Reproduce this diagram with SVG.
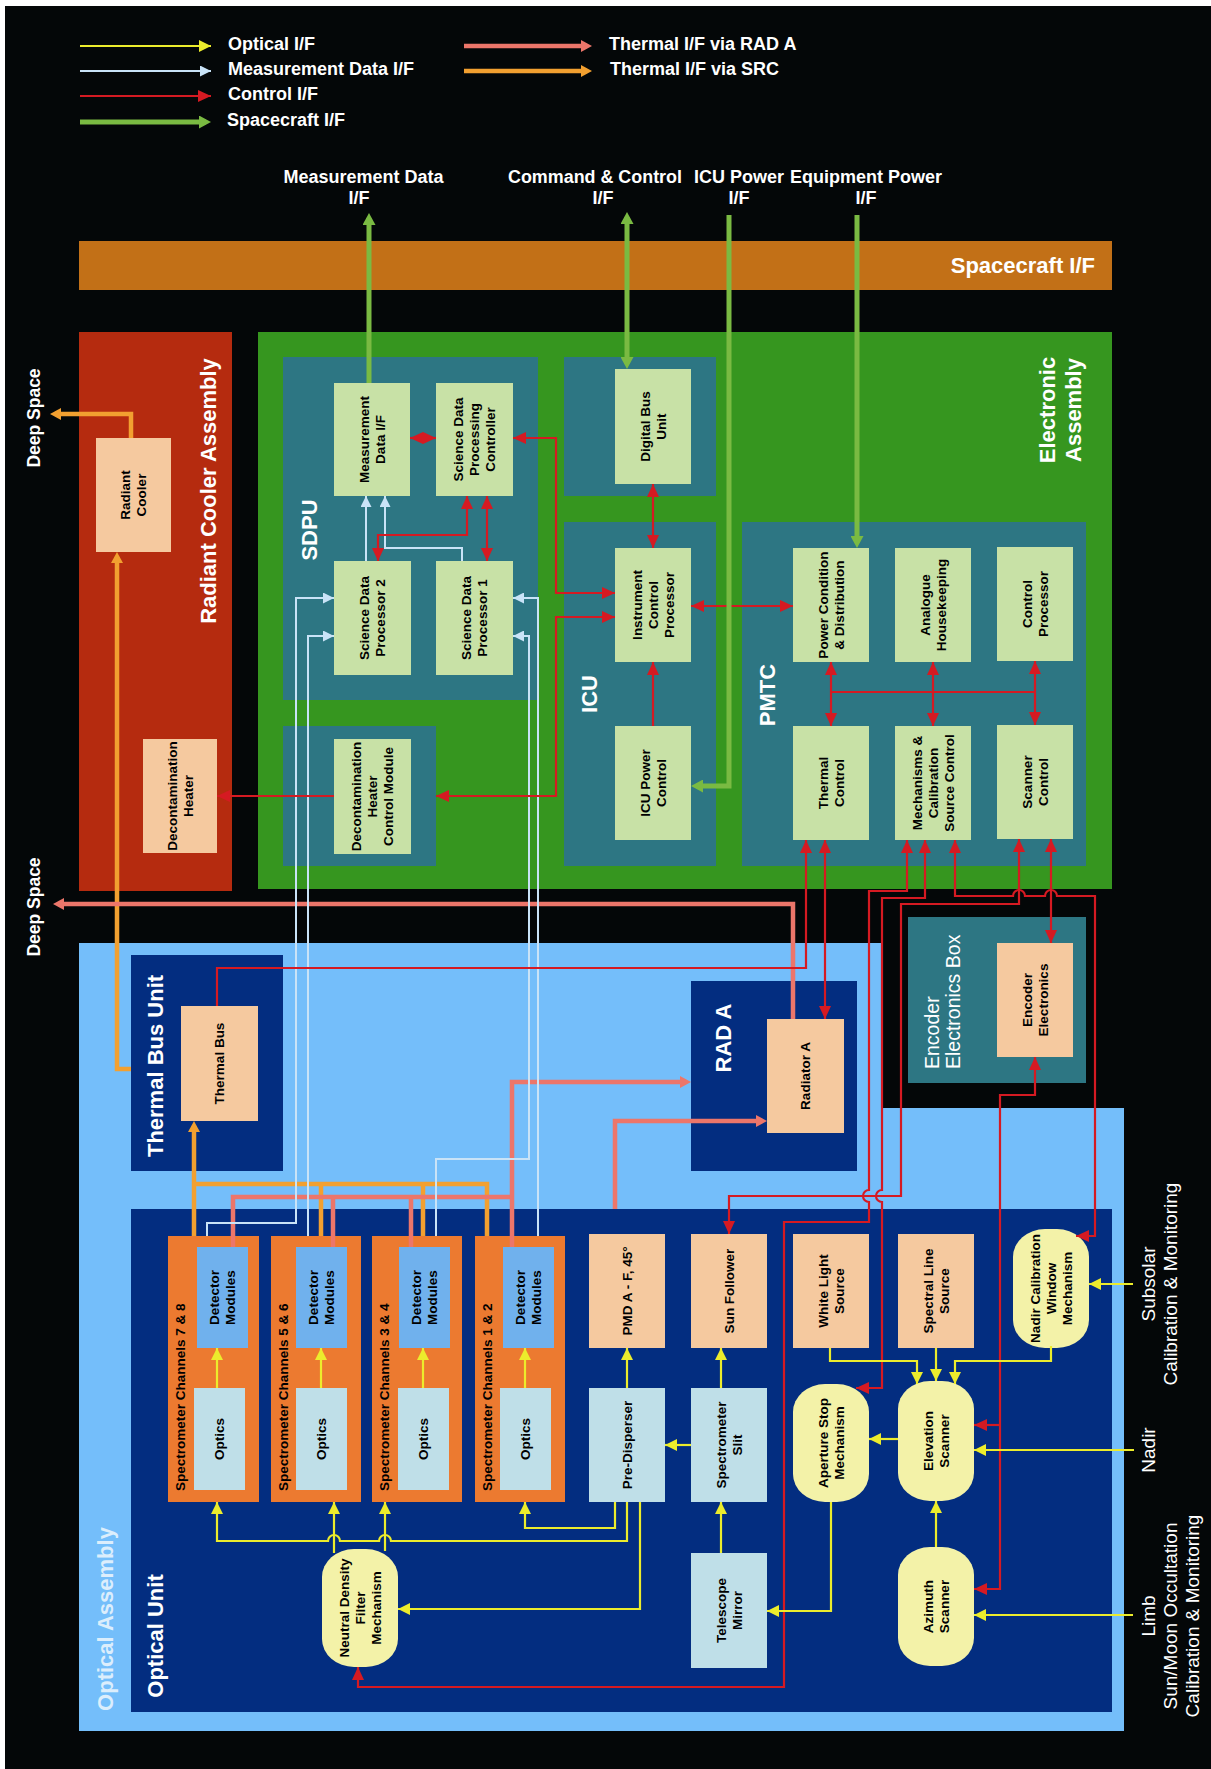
<svg xmlns="http://www.w3.org/2000/svg" width="1211" height="1769" viewBox="0 0 1211 1769">
<defs>
<style>
text{font-family:"Liberation Sans",Arial,Helvetica,sans-serif;font-weight:bold}
.lg{font-size:18px;fill:#fff}
.tc{text-anchor:middle}
.cl{font-size:22px;fill:#fff;text-anchor:middle}
.lb{font-size:13.5px;fill:#000;text-anchor:middle}
.ext{font-size:19px;fill:#fff;font-weight:normal;text-anchor:middle}
.g{fill:#C8E1A6}
.p{fill:#F5C99F}
.s{fill:#BFDFE8}
.y{fill:#F3F2A8}
.tl{fill:#2D7683}
.nv{fill:#032D80}
.or{fill:#EC7A30}
.dm{fill:#70B1ED}
.c{fill:none}
.red{stroke:#D51A22;stroke-width:2.2}
.yel{stroke:#ECEC2C;stroke-width:2.2}
.blu{stroke:#C9E3F7;stroke-width:2}
.grn{stroke:#7ABA42;stroke-width:5}
.sal{stroke:#EC766A;stroke-width:4.5}
.org{stroke:#F2A030;stroke-width:4.5}
</style>
<marker id="mr" viewBox="0 0 13 12" refX="13" refY="6" markerWidth="13" markerHeight="12" markerUnits="userSpaceOnUse" orient="auto-start-reverse"><path d="M0,0L13,6L0,12z" fill="#D51A22"/></marker>
<marker id="my" viewBox="0 0 12 12" refX="12" refY="6" markerWidth="12" markerHeight="12" markerUnits="userSpaceOnUse" orient="auto-start-reverse"><path d="M0,0L12,6L0,12z" fill="#ECEC2C"/></marker>
<marker id="mb" viewBox="0 0 11 11" refX="11" refY="5.5" markerWidth="11" markerHeight="11" markerUnits="userSpaceOnUse" orient="auto-start-reverse"><path d="M0,0L11,5.5L0,11z" fill="#C9E3F7"/></marker>
<marker id="mg" viewBox="0 0 12 13" refX="7" refY="6.5" markerWidth="12" markerHeight="13" markerUnits="userSpaceOnUse" orient="auto-start-reverse"><path d="M0,0L12,6.5L0,13z" fill="#7ABA42"/></marker>
<marker id="ms" viewBox="0 0 11 12" refX="6" refY="6" markerWidth="11" markerHeight="12" markerUnits="userSpaceOnUse" orient="auto-start-reverse"><path d="M0,0L11,6L0,12z" fill="#EC766A"/></marker>
<marker id="mo" viewBox="0 0 11 12" refX="6" refY="6" markerWidth="11" markerHeight="12" markerUnits="userSpaceOnUse" orient="auto-start-reverse"><path d="M0,0L11,6L0,12z" fill="#F2A030"/></marker>
</defs>

<rect x="0" y="0" width="1211" height="1769" fill="#fff"/>
<rect x="5" y="6" width="1206" height="1763" fill="#040708"/>

<!-- Legend -->
<g id="legend">
<path class="c yel" d="M80,46H211" marker-end="url(#my)"/>
<path class="c blu" d="M80,71H211" marker-end="url(#mb)"/>
<path class="c red" d="M80,96H211" marker-end="url(#mr)"/>
<path class="c grn" d="M80,122H206" marker-end="url(#mg)"/>
<path class="c sal" d="M464,46H587" marker-end="url(#ms)"/>
<path class="c org" d="M464,71H587" marker-end="url(#mo)"/>
<text class="lg" x="228" y="50">Optical I/F</text>
<text class="lg" x="228" y="75">Measurement Data I/F</text>
<text class="lg" x="228" y="100">Control I/F</text>
<text class="lg" x="227" y="126">Spacecraft I/F</text>
<text class="lg" x="609" y="50">Thermal I/F via RAD A</text>
<text class="lg" x="610" y="75">Thermal I/F via SRC</text>
</g>

<!-- External interface labels -->
<g id="ext-labels">
<text class="lg tc" x="363.5" y="183">Measurement Data</text>
<text class="lg tc" x="359" y="204">I/F</text>
<text class="lg tc" x="595" y="183" textLength="174" lengthAdjust="spacingAndGlyphs">Command &amp; Control</text>
<text class="lg tc" x="603" y="204">I/F</text>
<text class="lg tc" x="739" y="183">ICU Power</text>
<text class="lg tc" x="739" y="204">I/F</text>
<text class="lg tc" x="866" y="183" textLength="152" lengthAdjust="spacingAndGlyphs">Equipment Power</text>
<text class="lg tc" x="866" y="204">I/F</text>
<text class="lg tc" transform="translate(40,418) rotate(-90)" style="font-size:17.5px">Deep Space</text>
<text class="lg tc" transform="translate(40,907) rotate(-90)" style="font-size:17.5px">Deep Space</text>
<text class="ext" transform="translate(1155,1284) rotate(-90)"><tspan x="0" y="0">Subsolar</tspan><tspan x="0" y="22">Calibration &amp; Monitoring</tspan></text>
<text class="ext" transform="translate(1155,1450) rotate(-90)">Nadir</text>
<text class="ext" transform="translate(1155,1616) rotate(-90)"><tspan x="0" y="0">Limb</tspan><tspan x="0" y="22">Sun/Moon Occultation</tspan><tspan x="0" y="44">Calibration &amp; Monitoring</tspan></text>
</g>

<!-- Containers -->
<g id="spacecraft-if"><rect x="79" y="241" width="1033" height="49" fill="#C27017"/><text class="lg" x="1095" y="273" style="font-size:22px;text-anchor:end">Spacecraft I/F</text></g>
<g id="radiant-cooler-assembly"><rect x="79" y="332" width="153" height="559" fill="#B52B0F"/><text class="cl" transform="translate(216,491) rotate(-90)">Radiant Cooler Assembly</text></g>
<g id="electronic-assembly"><rect x="258" y="332" width="854" height="557" fill="#36961F"/><text class="cl" transform="translate(1055,410) rotate(-90)"><tspan x="0" y="0">Electronic</tspan><tspan x="0" y="26">Assembly</tspan></text></g>
<g id="sdpu"><rect class="tl" x="283" y="357" width="255" height="343"/><text class="cl" transform="translate(317,530) rotate(-90)">SDPU</text></g>
<g id="dhcm-box"><rect class="tl" x="283" y="726" width="153" height="140"/></g>
<g id="dbu-box"><rect class="tl" x="564" y="357" width="152" height="139"/></g>
<g id="icu"><rect class="tl" x="564" y="522" width="152" height="344"/><text class="cl" transform="translate(597,694) rotate(-90)">ICU</text></g>
<g id="pmtc"><rect class="tl" x="742" y="522" width="344" height="344"/><text class="cl" transform="translate(775,695) rotate(-90)">PMTC</text></g>
<g id="optical-assembly"><polygon points="79,943 881,943 881,1108 1124,1108 1124,1731 79,1731" fill="#74BEFA"/><text class="cl" style="fill:#DCEEFC" transform="translate(113,1619) rotate(-90)">Optical Assembly</text></g>
<g id="thermal-bus-unit"><rect class="nv" x="131" y="955" width="152" height="216"/><text class="cl" transform="translate(163,1066) rotate(-90)">Thermal Bus Unit</text></g>
<g id="rad-a"><rect class="nv" x="691" y="981" width="166" height="190"/><text class="cl" transform="translate(731,1038) rotate(-90)">RAD A</text></g>
<g id="optical-unit"><rect class="nv" x="131" y="1209" width="981" height="503"/><text class="cl" transform="translate(163,1636) rotate(-90)">Optical Unit</text></g>
<g id="encoder-box"><rect class="tl" x="908" y="917" width="178" height="166"/><text transform="translate(939,1069) rotate(-90)" style="font-size:19.5px;font-weight:normal;fill:#fff"><tspan x="0" y="0">Encoder</tspan><tspan x="0" y="21">Electronics Box</tspan></text></g>

<!-- Nodes: Electronic assembly -->
<g id="mdif"><rect class="g" x="334" y="383" width="76" height="113"/><text class="lb" transform="translate(372,439.5) rotate(-90)"><tspan x="0" y="-3.2">Measurement</tspan><tspan x="0" y="12.8">Data I/F</tspan></text></g>
<g id="sdpc"><rect class="g" x="436" y="383" width="77" height="113"/><text class="lb" transform="translate(474.5,439.5) rotate(-90)"><tspan x="0" y="-11.2">Science Data</tspan><tspan x="0" y="4.8">Processing</tspan><tspan x="0" y="20.8">Controller</tspan></text></g>
<g id="sdp2"><rect class="g" x="334" y="561" width="77" height="114"/><text class="lb" transform="translate(372.5,618) rotate(-90)"><tspan x="0" y="-3.2">Science Data</tspan><tspan x="0" y="12.8">Processor 2</tspan></text></g>
<g id="sdp1"><rect class="g" x="436" y="561" width="77" height="114"/><text class="lb" transform="translate(474.5,618) rotate(-90)"><tspan x="0" y="-3.2">Science Data</tspan><tspan x="0" y="12.8">Processor 1</tspan></text></g>
<g id="dhcm"><rect class="g" x="334" y="739" width="77" height="115"/><text class="lb" transform="translate(372.5,796.5) rotate(-90)"><tspan x="0" y="-11.2">Decontamination</tspan><tspan x="0" y="4.8">Heater</tspan><tspan x="0" y="20.8">Control Module</tspan></text></g>
<g id="dbu"><rect class="g" x="615" y="369" width="76" height="115"/><text class="lb" transform="translate(653,426.5) rotate(-90)"><tspan x="0" y="-3.2">Digital Bus</tspan><tspan x="0" y="12.8">Unit</tspan></text></g>
<g id="icp"><rect class="g" x="615" y="548" width="76" height="114"/><text class="lb" transform="translate(653,605) rotate(-90)"><tspan x="0" y="-11.2">Instrument</tspan><tspan x="0" y="4.8">Control</tspan><tspan x="0" y="20.8">Processor</tspan></text></g>
<g id="icupc"><rect class="g" x="615" y="726" width="76" height="114"/><text class="lb" transform="translate(653,783) rotate(-90)"><tspan x="0" y="-3.2">ICU Power</tspan><tspan x="0" y="12.8">Control</tspan></text></g>
<g id="pcd"><rect class="g" x="793" y="548" width="76" height="114"/><text class="lb" transform="translate(831,605) rotate(-90)"><tspan x="0" y="-3.2">Power Condition</tspan><tspan x="0" y="12.8">&amp; Distribution</tspan></text></g>
<g id="ah"><rect class="g" x="895" y="548" width="76" height="114"/><text class="lb" transform="translate(933,605) rotate(-90)"><tspan x="0" y="-3.2">Analogue</tspan><tspan x="0" y="12.8">Housekeeping</tspan></text></g>
<g id="cp"><rect class="g" x="997" y="547" width="76" height="114"/><text class="lb" transform="translate(1035,604) rotate(-90)"><tspan x="0" y="-3.2">Control</tspan><tspan x="0" y="12.8">Processor</tspan></text></g>
<g id="tc"><rect class="g" x="793" y="726" width="76" height="114"/><text class="lb" transform="translate(831,783) rotate(-90)"><tspan x="0" y="-3.2">Thermal</tspan><tspan x="0" y="12.8">Control</tspan></text></g>
<g id="mcsc"><rect class="g" x="895" y="726" width="76" height="114"/><text class="lb" transform="translate(933,783) rotate(-90)"><tspan x="0" y="-11.2">Mechanisms &amp;</tspan><tspan x="0" y="4.8">Calibration</tspan><tspan x="0" y="20.8">Source Control</tspan></text></g>
<g id="sc"><rect class="g" x="997" y="725" width="76" height="114"/><text class="lb" transform="translate(1035,782) rotate(-90)"><tspan x="0" y="-3.2">Scanner</tspan><tspan x="0" y="12.8">Control</tspan></text></g>

<!-- Nodes: thermal -->
<g id="radiant-cooler"><rect class="p" x="96" y="438" width="75" height="114"/><text class="lb" transform="translate(133.5,495) rotate(-90)"><tspan x="0" y="-3.2">Radiant</tspan><tspan x="0" y="12.8">Cooler</tspan></text></g>
<g id="decon-heater"><rect class="p" x="143" y="739" width="74" height="114"/><text class="lb" transform="translate(180,796) rotate(-90)"><tspan x="0" y="-3.2">Decontamination</tspan><tspan x="0" y="12.8">Heater</tspan></text></g>
<g id="thermal-bus"><rect class="p" x="181" y="1006" width="77" height="115"/><text class="lb" transform="translate(219.5,1063.5) rotate(-90)"><tspan x="0" y="4.8">Thermal Bus</tspan></text></g>
<g id="radiator-a"><rect class="p" x="767" y="1019" width="77" height="114"/><text class="lb" transform="translate(805.5,1076) rotate(-90)"><tspan x="0" y="4.8">Radiator A</tspan></text></g>
<g id="encoder"><rect class="p" x="997" y="943" width="76" height="114"/><text class="lb" transform="translate(1035,1000) rotate(-90)"><tspan x="0" y="-3.2">Encoder</tspan><tspan x="0" y="12.8">Electronics</tspan></text></g>

<!-- Nodes: optical unit -->
<g id="ch78"><rect class="or" x="168" y="1236" width="91" height="266"/><text class="lb" style="text-anchor:start" transform="translate(184.5,1491) rotate(-90)">Spectrometer Channels 7 &amp; 8</text></g>
<g id="ch56"><rect class="or" x="271" y="1236" width="90" height="266"/><text class="lb" style="text-anchor:start" transform="translate(287.5,1491) rotate(-90)">Spectrometer Channels 5 &amp; 6</text></g>
<g id="ch34"><rect class="or" x="372" y="1236" width="90" height="266"/><text class="lb" style="text-anchor:start" transform="translate(388.5,1491) rotate(-90)">Spectrometer Channels 3 &amp; 4</text></g>
<g id="ch12"><rect class="or" x="475" y="1236" width="90" height="266"/><text class="lb" style="text-anchor:start" transform="translate(491.5,1491) rotate(-90)">Spectrometer Channels 1 &amp; 2</text></g>
<g id="det78"><rect class="dm" x="197" y="1247" width="51" height="101"/><text class="lb" transform="translate(222.5,1297.5) rotate(-90)"><tspan x="0" y="-3.2">Detector</tspan><tspan x="0" y="12.8">Modules</tspan></text></g>
<g id="det56"><rect class="dm" x="296" y="1247" width="51" height="101"/><text class="lb" transform="translate(321.5,1297.5) rotate(-90)"><tspan x="0" y="-3.2">Detector</tspan><tspan x="0" y="12.8">Modules</tspan></text></g>
<g id="det34"><rect class="dm" x="399" y="1247" width="51" height="101"/><text class="lb" transform="translate(424.5,1297.5) rotate(-90)"><tspan x="0" y="-3.2">Detector</tspan><tspan x="0" y="12.8">Modules</tspan></text></g>
<g id="det12"><rect class="dm" x="503" y="1247" width="51" height="101"/><text class="lb" transform="translate(528.5,1297.5) rotate(-90)"><tspan x="0" y="-3.2">Detector</tspan><tspan x="0" y="12.8">Modules</tspan></text></g>
<g id="opt78"><rect class="s" x="194" y="1388" width="51" height="102"/><text class="lb" transform="translate(219.5,1439) rotate(-90)"><tspan x="0" y="4.8">Optics</tspan></text></g>
<g id="opt56"><rect class="s" x="296" y="1388" width="51" height="102"/><text class="lb" transform="translate(321.5,1439) rotate(-90)"><tspan x="0" y="4.8">Optics</tspan></text></g>
<g id="opt34"><rect class="s" x="398" y="1388" width="51" height="102"/><text class="lb" transform="translate(423.5,1439) rotate(-90)"><tspan x="0" y="4.8">Optics</tspan></text></g>
<g id="opt12"><rect class="s" x="500" y="1388" width="51" height="102"/><text class="lb" transform="translate(525.5,1439) rotate(-90)"><tspan x="0" y="4.8">Optics</tspan></text></g>
<g id="pmd"><rect class="p" x="589" y="1234" width="76" height="114"/><text class="lb" transform="translate(627,1291) rotate(-90)"><tspan x="0" y="4.8">PMD A - F, 45°</tspan></text></g>
<g id="sun-follower"><rect class="p" x="691" y="1234" width="76" height="114"/><text class="lb" transform="translate(729,1291) rotate(-90)"><tspan x="0" y="4.8">Sun Follower</tspan></text></g>
<g id="wls"><rect class="p" x="793" y="1234" width="76" height="114"/><text class="lb" transform="translate(831,1291) rotate(-90)"><tspan x="0" y="-3.2">White Light</tspan><tspan x="0" y="12.8">Source</tspan></text></g>
<g id="sls"><rect class="p" x="898" y="1234" width="76" height="114"/><text class="lb" transform="translate(936,1291) rotate(-90)"><tspan x="0" y="-3.2">Spectral Line</tspan><tspan x="0" y="12.8">Source</tspan></text></g>
<g id="ncwm"><rect class="y" x="1013" y="1229" width="76" height="119" rx="32" ry="28"/><text class="lb" transform="translate(1051,1288.5) rotate(-90)"><tspan x="0" y="-11.2">Nadir Calibration</tspan><tspan x="0" y="4.8">Window</tspan><tspan x="0" y="20.8">Mechanism</tspan></text></g>
<g id="pre-disperser"><rect class="s" x="589" y="1388" width="76" height="114"/><text class="lb" transform="translate(627,1445) rotate(-90)"><tspan x="0" y="4.8">Pre-Disperser</tspan></text></g>
<g id="slit"><rect class="s" x="691" y="1388" width="76" height="114"/><text class="lb" transform="translate(729,1445) rotate(-90)"><tspan x="0" y="-3.2">Spectrometer</tspan><tspan x="0" y="12.8">Slit</tspan></text></g>
<g id="telescope"><rect class="s" x="691" y="1553" width="76" height="115"/><text class="lb" transform="translate(729,1610.5) rotate(-90)"><tspan x="0" y="-3.2">Telescope</tspan><tspan x="0" y="12.8">Mirror</tspan></text></g>
<g id="aperture"><rect class="y" x="793" y="1384" width="76" height="118" rx="32" ry="28"/><text class="lb" transform="translate(831,1443) rotate(-90)"><tspan x="0" y="-3.2">Aperture Stop</tspan><tspan x="0" y="12.8">Mechanism</tspan></text></g>
<g id="elevation"><rect class="y" x="898" y="1381" width="76" height="120" rx="32" ry="28"/><text class="lb" transform="translate(936,1441) rotate(-90)"><tspan x="0" y="-3.2">Elevation</tspan><tspan x="0" y="12.8">Scanner</tspan></text></g>
<g id="azimuth"><rect class="y" x="898" y="1547" width="76" height="119" rx="32" ry="28"/><text class="lb" transform="translate(936,1606.5) rotate(-90)"><tspan x="0" y="-3.2">Azimuth</tspan><tspan x="0" y="12.8">Scanner</tspan></text></g>
<g id="ndf"><rect class="y" x="322" y="1549" width="76" height="118" rx="32" ry="28"/><text class="lb" transform="translate(360,1608) rotate(-90)"><tspan x="0" y="-11.2">Neutral Density</tspan><tspan x="0" y="4.8">Filter</tspan><tspan x="0" y="20.8">Mechanism</tspan></text></g>

<!-- Connectors -->
<g id="connectors">
<!-- thermal SRC -->
<path class="c org" d="M131,438V414H55" marker-end="url(#mo)"/>
<path class="c org" d="M131,1069H117V557" marker-end="url(#mo)"/>
<path class="c org" d="M194,1236V1126" marker-end="url(#mo)"/>
<path class="c org" d="M194,1184H487V1236M321,1184V1236M423,1184V1236"/>
<!-- thermal RAD A -->
<path class="c sal" d="M793,1019V904H58" marker-end="url(#ms)"/>
<path class="c sal" d="M233,1247V1197H512M333,1247V1197M411,1247V1197"/>
<path class="c sal" d="M512,1247V1082H686" marker-end="url(#ms)"/>
<path class="c sal" d="M615,1209V1121H762" marker-end="url(#ms)"/>
<!-- measurement data -->
<path class="c blu" d="M366,561V496" marker-end="url(#mb)"/>
<path class="c blu" d="M462,561V548H385V496" marker-end="url(#mb)"/>
<path class="c blu" d="M207,1236V1223H296V598H334" marker-end="url(#mb)"/>
<path class="c blu" d="M308,1236V636H334" marker-end="url(#mb)"/>
<path class="c blu" d="M436,1236V1159H529V636H513" marker-end="url(#mb)"/>
<path class="c blu" d="M538,1236V598H513" marker-end="url(#mb)"/>
<!-- control -->
<path class="c red" d="M410,438H436" marker-start="url(#mr)" marker-end="url(#mr)"/>
<path class="c red" d="M513,438H556V593H615" marker-start="url(#mr)" marker-end="url(#mr)"/>
<path class="c red" d="M615,617H556V796H436" marker-start="url(#mr)" marker-end="url(#mr)"/>
<path class="c red" d="M334,796H217" marker-end="url(#mr)"/>
<path class="c red" d="M487,496V561" marker-start="url(#mr)" marker-end="url(#mr)"/>
<path class="c red" d="M467,496V535H378V561" marker-start="url(#mr)" marker-end="url(#mr)"/>
<path class="c red" d="M653,484V548" marker-start="url(#mr)" marker-end="url(#mr)"/>
<path class="c red" d="M653,726V662" marker-end="url(#mr)"/>
<path class="c red" d="M691,606H793" marker-start="url(#mr)" marker-end="url(#mr)"/>
<path class="c red" d="M831,662V726" marker-start="url(#mr)" marker-end="url(#mr)"/>
<path class="c red" d="M933,662V726" marker-start="url(#mr)" marker-end="url(#mr)"/>
<path class="c red" d="M1035,661V725" marker-start="url(#mr)" marker-end="url(#mr)"/>
<path class="c red" d="M831,692H1035"/>
<path class="c red" d="M806,840V968H217V1006" marker-start="url(#mr)"/>
<path class="c red" d="M825,840V1019" marker-start="url(#mr)" marker-end="url(#mr)"/>
<path class="c red" d="M907,840V891H869V1190A6,6 0 0 0 869,1202V1222H784V1687H358V1667" marker-start="url(#mr)" marker-end="url(#mr)"/>
<path class="c red" d="M925,840V898H882V1190A6,6 0 0 0 882,1202V1388H856" marker-start="url(#mr)" marker-end="url(#mr)"/>
<path class="c red" d="M955,840V896H1013A6,6 0 0 1 1025,896H1045A6,6 0 0 1 1057,896H1095V1236H1076" marker-start="url(#mr)" marker-end="url(#mr)"/>
<path class="c red" d="M1019,839V904H901V1196H729V1234" marker-start="url(#mr)" marker-end="url(#mr)"/>
<path class="c red" d="M1051,839V943" marker-start="url(#mr)" marker-end="url(#mr)"/>
<path class="c red" d="M1035,1057V1095H1000V1589H974" marker-start="url(#mr)" marker-end="url(#mr)"/>
<path class="c red" d="M1000,1425H974" marker-end="url(#mr)"/>
<!-- optical -->
<path class="c yel" d="M217,1388V1348" marker-end="url(#my)"/>
<path class="c yel" d="M321,1388V1348" marker-end="url(#my)"/>
<path class="c yel" d="M423,1388V1348" marker-end="url(#my)"/>
<path class="c yel" d="M525,1388V1348" marker-end="url(#my)"/>
<path class="c yel" d="M721,1553V1502" marker-end="url(#my)"/>
<path class="c yel" d="M691,1445H665" marker-end="url(#my)"/>
<path class="c yel" d="M627,1388V1348" marker-end="url(#my)"/>
<path class="c yel" d="M721,1388V1348" marker-end="url(#my)"/>
<path class="c yel" d="M615,1502V1528H525V1502" marker-end="url(#my)"/>
<path class="c yel" d="M627,1502V1541H391A6,6 0 0 0 379,1541H340A6,6 0 0 0 328,1541H217V1502" marker-end="url(#my)"/>
<path class="c yel" d="M334,1553V1502" marker-end="url(#my)"/>
<path class="c yel" d="M385,1551V1502" marker-end="url(#my)"/>
<path class="c yel" d="M640,1502V1609H398" marker-end="url(#my)"/>
<path class="c yel" d="M831,1502V1611H767" marker-end="url(#my)"/>
<path class="c yel" d="M898,1439H869" marker-end="url(#my)"/>
<path class="c yel" d="M936,1547V1501" marker-end="url(#my)"/>
<path class="c yel" d="M830,1348V1361H917V1384" marker-end="url(#my)"/>
<path class="c yel" d="M936,1348V1381" marker-end="url(#my)"/>
<path class="c yel" d="M1051,1346V1361H955V1384" marker-end="url(#my)"/>
<path class="c yel" d="M1133,1284H1089" marker-end="url(#my)"/>
<path class="c yel" d="M1134,1450H974" marker-end="url(#my)"/>
<path class="c yel" d="M1133,1615H974" marker-end="url(#my)"/>
<!-- spacecraft -->
<path class="c grn" d="M369,383V218" marker-end="url(#mg)"/>
<path class="c grn" d="M627,217V364" marker-start="url(#mg)" marker-end="url(#mg)"/>
<path class="c grn" d="M729,215V786H696" marker-end="url(#mg)"/>
<path class="c grn" d="M857,215V543" marker-end="url(#mg)"/>
</g>
</svg>
